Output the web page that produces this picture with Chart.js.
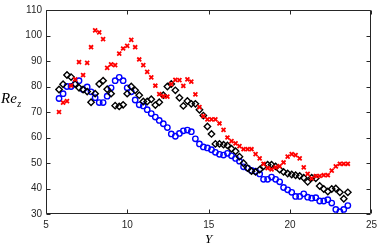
<!DOCTYPE html>
<html>
<head>
<meta charset="utf-8">
<script src="https://cdn.jsdelivr.net/npm/chart.js@4/dist/chart.umd.min.js"></script>
<style>
html, body { margin: 0; padding: 0; background: #fff; }
#wrap { width: 382px; height: 244px; position: relative; }
</style>
</head>
<body>
<div id="wrap"><canvas id="chart"></canvas></div>
<script>
// Y positions shared by the three series
const yPos = [5.80, 6.05, 6.29, 6.54, 6.79, 7.03, 7.28, 7.53, 7.77, 8.02,
    8.27, 8.51, 8.76, 9.00, 9.25, 9.50, 9.74, 9.99, 10.24, 10.48,
    10.73, 10.98, 11.22, 11.47, 11.72, 11.96, 12.21, 12.46, 12.70, 12.95,
    13.20, 13.44, 13.69, 13.93, 14.18, 14.43, 14.67, 14.92, 15.17, 15.41,
    15.66, 15.91, 16.15, 16.40, 16.65, 16.89, 17.14, 17.39, 17.63, 17.88,
    18.13, 18.37, 18.62, 18.86, 19.11, 19.36, 19.60, 19.85, 20.10, 20.34,
    20.59, 20.84, 21.08, 21.33, 21.58, 21.82, 22.07, 22.32, 22.56, 22.81,
    23.06, 23.30, 23.55];

// red crosses
const reRed = [70.0, 73.7, 74.3, 80.3, 82.8, 89.6, 84.5, 89.3, 95.4, 102.0,
    101.2, 98.6, 87.3, 88.7, 88.4, 92.9, 94.9, 95.9, 98.3, 95.4,
    90.6, 88.4, 85.7, 83.6, 80.3, 77.0, 76.2, 76.0, 80.9, 82.6,
    82.5, 80.2, 82.8, 81.9, 76.9, 71.9, 68.4, 67.1, 67.1, 67.1,
    65.5, 63.0, 60.0, 58.6, 57.7, 56.6, 55.4, 55.4, 55.4, 53.5,
    51.8, 49.7, 48.0, 47.5, 48.3, 48.8, 50.2, 52.5, 53.5, 53.1,
    51.8, 48.3, 45.7, 44.0, 44.9, 44.9, 45.2, 45.2, 47.0, 48.7,
    49.7, 49.7, 49.7];

// black diamonds
const reBlack = [78.8, 80.9, 84.5, 83.7, 81.0, 79.5, 78.8, 78.0, 73.8, 77.2,
    81.0, 82.3, 78.9, 77.2, 72.5, 72.2, 72.8, 77.2, 80.0, 78.5,
    76.6, 74.1, 74.1, 75.0, 72.7, 73.8, 76.6, 80.0, 81.0, 78.5,
    75.6, 72.4, 74.3, 73.2, 73.2, 70.9, 68.6, 64.3, 61.4, 57.5,
    57.5, 57.2, 56.9, 55.6, 54.6, 52.5, 49.9, 48.0, 46.8, 46.5,
    47.4, 48.7, 49.3, 49.3, 48.7, 47.4, 46.5, 45.9, 45.5, 45.2,
    44.9, 44.2, 42.6, 44.2, 44.0, 41.0, 39.8, 38.8, 39.8, 40.0,
    38.5, 36.0, 38.5];

// blue circles
const reBlue = [75.3, 77.2, 80.0, 80.0, 81.0, 82.3, 78.8, 79.8, 77.9, 75.6,
    73.7, 73.7, 76.2, 79.5, 82.3, 83.6, 82.3, 79.5, 77.9, 74.7,
    72.8, 72.4, 70.9, 69.4, 68.0, 66.7, 65.4, 63.9, 61.4, 60.5,
    61.6, 62.6, 62.9, 62.3, 59.5, 57.5, 56.3, 55.9, 55.2, 54.2,
    53.4, 53.1, 53.8, 52.8, 51.8, 50.7, 48.5, 48.0, 47.1, 46.8,
    45.7, 43.6, 43.6, 44.5, 43.6, 42.6, 40.4, 39.5, 38.5, 36.9,
    36.9, 37.9, 36.6, 36.2, 36.4, 35.1, 35.1, 35.6, 34.3, 31.8,
    30.9, 31.8, 33.3];

const xTicks = [5, 10, 15, 20, 25];
const yTicks = [30, 40, 50, 60, 70, 80, 90, 100, 110];

const axisColor = "#262626";

const toPoints = (vals) => yPos.map((x, i) => ({ x: x, y: vals[i] }));

// box around the plot, inward ticks and the two axis titles
const framePlugin = {
    id: "frame",
    afterDatasetsDraw(chart) {
        const ctx = chart.ctx;
        const a = chart.chartArea;
        const xs = chart.scales.x;
        const ys = chart.scales.y;
        const L = Math.round(a.left) + 0.5;
        const R = Math.round(a.right) - 0.5;
        const T = Math.round(a.top) + 0.5;
        const B = Math.round(a.bottom) - 0.5;
        const tick = 4;
        ctx.save();
        ctx.strokeStyle = axisColor;
        ctx.lineWidth = 1;
        ctx.beginPath();
        ctx.rect(L, T, R - L, B - T);
        xTicks.forEach(v => {
            const px = Math.round(xs.getPixelForValue(v)) + 0.5;
            ctx.moveTo(px, B); ctx.lineTo(px, B - tick);
            ctx.moveTo(px, T); ctx.lineTo(px, T + tick);
        });
        yTicks.forEach(v => {
            const py = Math.round(ys.getPixelForValue(v)) + 0.5;
            ctx.moveTo(L, py); ctx.lineTo(L + tick, py);
            ctx.moveTo(R, py); ctx.lineTo(R - tick, py);
        });
        ctx.stroke();

        ctx.fillStyle = "#000";
        ctx.textBaseline = "alphabetic";
        ctx.textAlign = "left";
        ctx.font = "italic 15px 'Liberation Serif'";
        ctx.fillText("Re", 1, 103);
        const w = ctx.measureText("Re").width;
        ctx.font = "italic 10px 'Liberation Serif'";
        ctx.fillText("z", 1 + w + 0.5, 107);

        ctx.textAlign = "center";
        ctx.font = "italic 13px 'Liberation Serif'";
        ctx.fillText("Y", xs.getPixelForValue(15), 242.5);
        ctx.restore();
    }
};

new Chart(document.getElementById("chart"), {
    type: "scatter",
    data: {
        datasets: [
            {
                label: "red",
                data: toPoints(reRed),
                pointStyle: "crossRot",
                pointRadius: 2.8,
                borderColor: "#ff0000",
                backgroundColor: "#ff0000",
                pointBorderWidth: 1.8,
            },
            {
                label: "black",
                data: toPoints(reBlack),
                pointStyle: "rectRot",
                pointRadius: 3.2,
                borderColor: "#000000",
                backgroundColor: "rgba(0,0,0,0)",
                pointBorderWidth: 1.4,
            },
            {
                label: "blue",
                data: toPoints(reBlue),
                pointStyle: "circle",
                pointRadius: 2.7,
                borderColor: "#0000ff",
                backgroundColor: "rgba(0,0,0,0)",
                pointBorderWidth: 1.4,
            },
        ],
    },
    options: {
        responsive: true,
        maintainAspectRatio: false,
        animation: false,
        layout: { padding: { top: 4, right: 7, left: 0, bottom: 0 } },
        plugins: {
            legend: { display: false },
            tooltip: { enabled: false },
        },
        scales: {
            x: {
                type: "linear",
                min: 5,
                max: 25,
                afterBuildTicks: (s) => { s.ticks = xTicks.map(v => ({ value: v })); },
                afterFit: (s) => { s.height = 30; },
                grid: { display: false, drawTicks: false },
                border: { display: false },
                ticks: {
                    color: axisColor,
                    padding: 5,
                    maxRotation: 0,
                    font: { family: "'Liberation Sans'", size: 10 },
                },
            },
            y: {
                type: "linear",
                min: 30,
                max: 110,
                afterBuildTicks: (s) => { s.ticks = yTicks.map(v => ({ value: v })); },
                afterFit: (s) => { s.width = 46; },
                grid: { display: false, drawTicks: false },
                border: { display: false },
                ticks: {
                    color: axisColor,
                    padding: 4,
                    font: { family: "'Liberation Sans'", size: 10 },
                },
            },
        },
    },
    plugins: [framePlugin],
});
</script>
</body>
</html>
